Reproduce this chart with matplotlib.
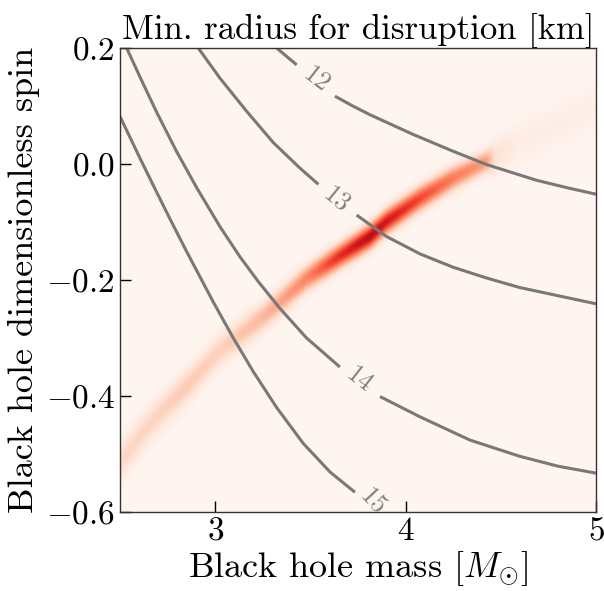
import numpy as np
import matplotlib
matplotlib.use("Agg")
import matplotlib.pyplot as plt

plt.rcParams["font.family"] = "serif"
plt.rcParams["font.serif"] = ["cmr10"]
plt.rcParams["mathtext.fontset"] = "cm"
plt.rcParams["axes.formatter.use_mathtext"] = True
plt.rcParams["axes.unicode_minus"] = True

# contour lines of the minimum NS radius, split at the label
r12_a_x = [3.323, 3.428]
r12_a_y = [0.2, 0.171]
r12_b_x = [3.629, 3.72, 3.813, 4.04, 4.25, 4.426, 4.688, 4.85, 5.0]
r12_b_y = [0.117, 0.1005, 0.085, 0.051, 0.022, -0.001, -0.028, -0.041, -0.052]

r13_a_x = [2.911, 3.025, 3.165, 3.305, 3.445, 3.542]
r13_a_y = [0.2, 0.148, 0.091, 0.037, -0.007, -0.035]
r13_b_x = [3.743, 3.90, 4.076, 4.25, 4.42, 4.60, 5.0]
r13_b_y = [-0.088, -0.125, -0.155, -0.178, -0.196, -0.213, -0.241]

r14_a_x = [2.535, 2.605, 2.693, 2.798, 2.903, 3.025, 3.13, 3.227, 3.34, 3.48, 3.655]
r14_a_y = [0.2, 0.150, 0.089, 0.021, -0.041, -0.108, -0.160, -0.203, -0.249, -0.300, -0.350]
r14_b_x = [3.866, 4.076, 4.338, 4.60, 4.80, 5.0]
r14_b_y = [-0.401, -0.436, -0.476, -0.504, -0.521, -0.533]

r15_a_x = [2.5, 2.605, 2.675, 2.763, 2.85, 2.99, 3.095, 3.20, 3.323, 3.463, 3.603, 3.734]
r15_a_y = [0.082, 0.010, -0.037, -0.095, -0.151, -0.238, -0.300, -0.358, -0.420, -0.482, -0.531, -0.566]

label_text = ["12", "13", "14", "15"]
label_x = [3.529, 3.64, 3.757, 3.83]
label_y = [0.145, -0.061, -0.372, -0.582]
label_rot = [-38, -39, -38, -47]

# posterior band: ridge line, peak level and vertical width
ridge_x = [2.50, 2.535, 2.675, 2.85, 3.025, 3.253, 3.48, 3.638, 3.813, 3.90, 4.076, 4.25, 4.426, 4.47, 4.60, 4.80, 5.0]
ridge_y = [-0.515, -0.499, -0.441, -0.384, -0.321, -0.263, -0.197, -0.162, -0.125, -0.099, -0.059, -0.024, 0.005, 0.012, 0.039, 0.068, 0.10]
ridge_amp = [0.15, 0.16, 0.17, 0.2, 0.18, 0.26, 0.42, 0.66, 0.82, 0.75, 0.6, 0.45, 0.35, 0.12, 0.05, 0.045, 0.04]
ridge_w = [0.022, 0.022, 0.021, 0.02, 0.019, 0.017, 0.015, 0.014, 0.014, 0.014, 0.014, 0.014, 0.013, 0.02, 0.025, 0.025, 0.025]

gx = np.linspace(2.5, 5.0, 500)
gy = np.linspace(-0.6, 0.2, 400)
X, Y = np.meshgrid(gx, gy)
cy = np.interp(X, ridge_x, ridge_y)
amp = np.interp(X, ridge_x, ridge_amp)
w = np.interp(X, ridge_x, ridge_w)
Z = amp * np.exp(-0.5 * ((Y - cy) / w) ** 2)

fig = plt.figure(figsize=(6.04, 5.91), dpi=100)
ax = fig.add_axes([0.1987, 0.1337, 0.788, 0.785])

ax.imshow(Z, extent=[2.5, 5.0, -0.6, 0.2], origin="lower", aspect="auto",
          cmap="Reds", vmin=0, vmax=1, interpolation="bilinear")

lc = "0.47"
for xs, ys in [(r12_a_x, r12_a_y), (r12_b_x, r12_b_y), (r13_a_x, r13_a_y),
               (r13_b_x, r13_b_y), (r14_a_x, r14_a_y), (r14_b_x, r14_b_y),
               (r15_a_x, r15_a_y)]:
    ax.plot(xs, ys, color=lc, lw=2.2, solid_capstyle="butt", solid_joinstyle="round")

for t, x, y, r in zip(label_text, label_x, label_y, label_rot):
    ax.text(x, y, t, color="0.5", fontsize=19, rotation=r,
            ha="center", va="center", rotation_mode="anchor", clip_on=True)

ax.set_xlim(2.5, 5.0)
ax.set_ylim(-0.6, 0.2)
ax.set_xticks([3, 4, 5])
ax.set_yticks([-0.6, -0.4, -0.2, 0.0, 0.2])
ax.tick_params(direction="in", length=8, width=1, labelsize=24, top=False, right=False)
for s in ax.spines.values():
    s.set_color("0.2")
    s.set_linewidth(1.0)

ax.set_title("Min. radius for disruption [km]", fontsize=25, pad=3)
ax.set_xlabel(r"Black hole mass [$M_{\odot}$]", fontsize=26, labelpad=2)
ax.set_ylabel("Black hole dimensionless spin", fontsize=26, labelpad=4)

fig.savefig("out.png", dpi=100)
